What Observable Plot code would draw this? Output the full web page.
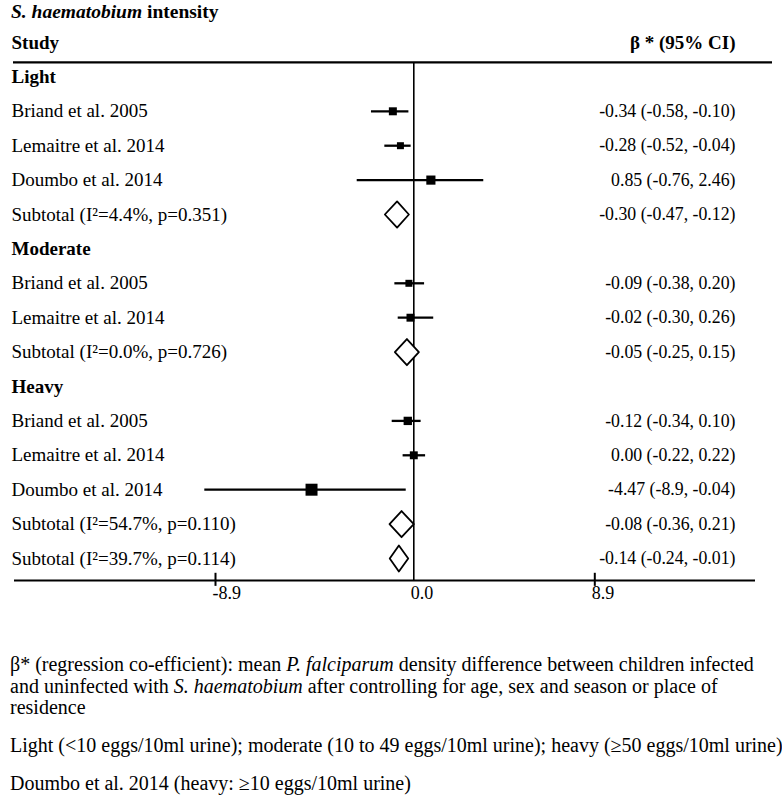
<!DOCTYPE html>
<html><head><meta charset="utf-8">
<script src="https://cdn.jsdelivr.net/npm/d3@7"></script>
<script src="https://cdn.jsdelivr.net/npm/@observablehq/plot@0.6"></script>
<style>
body{margin:0;background:#fff;font-family:"Liberation Serif","Times New Roman",serif;color:#000;width:782px;overflow:hidden;}
#title{font-weight:bold;font-size:19.5px;height:24px;line-height:24px;padding-left:11px;white-space:nowrap;}
#chart svg{display:block;}
#notes{font-size:20px;padding-left:10px;line-height:21.5px;margin-top:30px;white-space:nowrap;}
#notes p{margin:0 0 16.5px 0;}
</style></head><body>
<div id="title"><i>S. haematobium</i> intensity</div>
<div id="chart"></div>
<div id="notes">
<p>β* (regression co-efficient): mean <i>P. falciparum</i> density difference between children infected<br>and uninfected with <i>S. haematobium</i> after controlling for age, sex and season or place of<br>residence</p>
<p>Light (&lt;10 eggs/10ml urine); moderate (10 to 49 eggs/10ml urine); heavy (≥50 eggs/10ml urine)</p>
<p>Doumbo et al. 2014 (heavy: ≥10 eggs/10ml urine)</p>
</div>
<script>
// ---- Data ----
const headerLeft = "Study";
const headerRight = "β * (95% CI)";
const rowLabels = [
  "Light", "Briand et al. 2005", "Lemaitre et al. 2014", "Doumbo et al. 2014", "Subtotal (I²=4.4%, p=0.351)",
  "Moderate", "Briand et al. 2005", "Lemaitre et al. 2014", "Subtotal (I²=0.0%, p=0.726)",
  "Heavy", "Briand et al. 2005", "Lemaitre et al. 2014", "Doumbo et al. 2014", "Subtotal (I²=54.7%, p=0.110)",
  "Subtotal (I²=39.7%, p=0.114)"
];
const rowKinds = ["group","study","study","study","subtotal","group","study","study","subtotal","group","study","study","study","subtotal","subtotal"];
const ciLabels = [
  "", "-0.34 (-0.58, -0.10)", "-0.28 (-0.52, -0.04)", "0.85 (-0.76, 2.46)", "-0.30 (-0.47, -0.12)",
  "", "-0.09 (-0.38, 0.20)", "-0.02 (-0.30, 0.26)", "-0.05 (-0.25, 0.15)",
  "", "-0.12 (-0.34, 0.10)", "0.00 (-0.22, 0.22)", "-4.47 (-8.9, -0.04)", "-0.08 (-0.36, 0.21)",
  "-0.14 (-0.24, -0.01)"
];
// Positions of the marks as drawn in the figure (axis units)
const studyRows   = [1, 2, 3, 6, 7, 10, 11, 12];
const studyEst    = [-0.94, -0.60, 0.84, -0.22, -0.15, -0.27, 0.00, -4.59];
const studyLo     = [-1.90, -1.30, -2.54, -0.85, -0.70, -0.97, -0.48, -9.38];
const studyHi     = [-0.22, -0.12, 3.44, 0.53, 0.98, 0.36, 0.58, -0.34];
const studyWeight = [64, 49, 84, 49, 63, 70, 63, 144];
const subRows = [4, 8, 13, 14];
const subEst  = [-0.75, -0.31, -0.55, -0.67];
const subLo   = [-1.30, -0.85, -1.09, -1.08];
const subHi   = [-0.22, 0.25, 0.00, -0.25];
const xTicks = [-8.9, 0, 8.9];

// ---- Build tables ----
const rows = rowLabels.map((label, i) => ({row: i, label, kind: rowKinds[i], ci: ciLabels[i]}));
const studies = studyRows.map((r, i) => ({row: r, est: studyEst[i], lo: studyLo[i], hi: studyHi[i], w: studyWeight[i]}));
const halfH = 0.38;
const diamondPts = [];
subRows.forEach((r, i) => {
  diamondPts.push({id: i, x: subLo[i], y: r});
  diamondPts.push({id: i, x: subEst[i], y: r - halfH});
  diamondPts.push({id: i, x: subHi[i], y: r});
  diamondPts.push({id: i, x: subEst[i], y: r + halfH});
});
const headerRow = -0.42;
const axisRow = 14.64;
const font = "Liberation Serif";
// the figure's axis is stretched differently on each side of zero
const kNeg = 198.3 / 8.9, kPos = 181 / 8.9;

const plot = Plot.plot({
  width: 782,
  height: 600,
  marginTop: 0,
  marginBottom: 0,
  marginLeft: 0,
  marginRight: 0,
  style: {fontFamily: font, background: "#fff", color: "#000"},
  x: {transform: v => v < 0 ? v * kNeg : v * kPos, domain: [-8.9 * kNeg, 8.9 * kPos], range: [215, 594.3], axis: null},
  y: {domain: [-1, 14], range: [18, 534], axis: null},
  r: {type: "sqrt", domain: [0, 150], range: [0, 6.9]},
  marks: [
    Plot.ruleY([headerRow], {strokeWidth: 2.2, insetLeft: 13, insetRight: 10}),
    Plot.ruleY([axisRow], {strokeWidth: 2.2, insetLeft: 14, insetRight: 27}),
    Plot.ruleX([0], {y1: headerRow, y2: axisRow, strokeWidth: 1.6}),
    Plot.ruleX(xTicks.filter(d => d !== 0), {x: d => d, y1: axisRow - 0.21, y2: axisRow + 0.17, strokeWidth: 2}),
    Plot.text(xTicks, {x: d => d, y: axisRow, text: d => d.toFixed(1), textAnchor: "start", lineAnchor: "top", dx: -3, dy: 6, fontSize: 18}),
    Plot.ruleY(studies, {y: "row", x1: "lo", x2: "hi", strokeWidth: 2.3}),
    Plot.dot(studies, {x: "est", y: "row", r: "w", symbol: "square", fill: "black", stroke: "none"}),
    Plot.line(diamondPts, {x: "x", y: "y", z: "id", curve: "linear-closed", fill: "white", stroke: "black", strokeWidth: 1.8}),
    // headers
    Plot.text([headerLeft], {text: d => d, y: -1, frameAnchor: "left", dx: 11, textAnchor: "start", fontWeight: "bold", fontSize: 19}),
    Plot.text([headerRight], {text: d => d, y: -1, frameAnchor: "right", dx: -47, textAnchor: "end", fontWeight: "bold", fontSize: 19}),
    // left column
    Plot.text(rows.filter(d => d.kind === "group"), {text: "label", y: "row", frameAnchor: "left", dx: 11, textAnchor: "start", fontWeight: "bold", fontSize: 19}),
    Plot.text(rows.filter(d => d.kind !== "group"), {text: "label", y: "row", frameAnchor: "left", dx: 11, textAnchor: "start", fontSize: 19}),
    // right column
    Plot.text(rows.filter(d => d.ci), {text: "ci", y: "row", frameAnchor: "right", dx: -47, textAnchor: "end", fontSize: 17.8})
  ]
});
document.getElementById("chart").appendChild(plot);
</script>
</body></html>
